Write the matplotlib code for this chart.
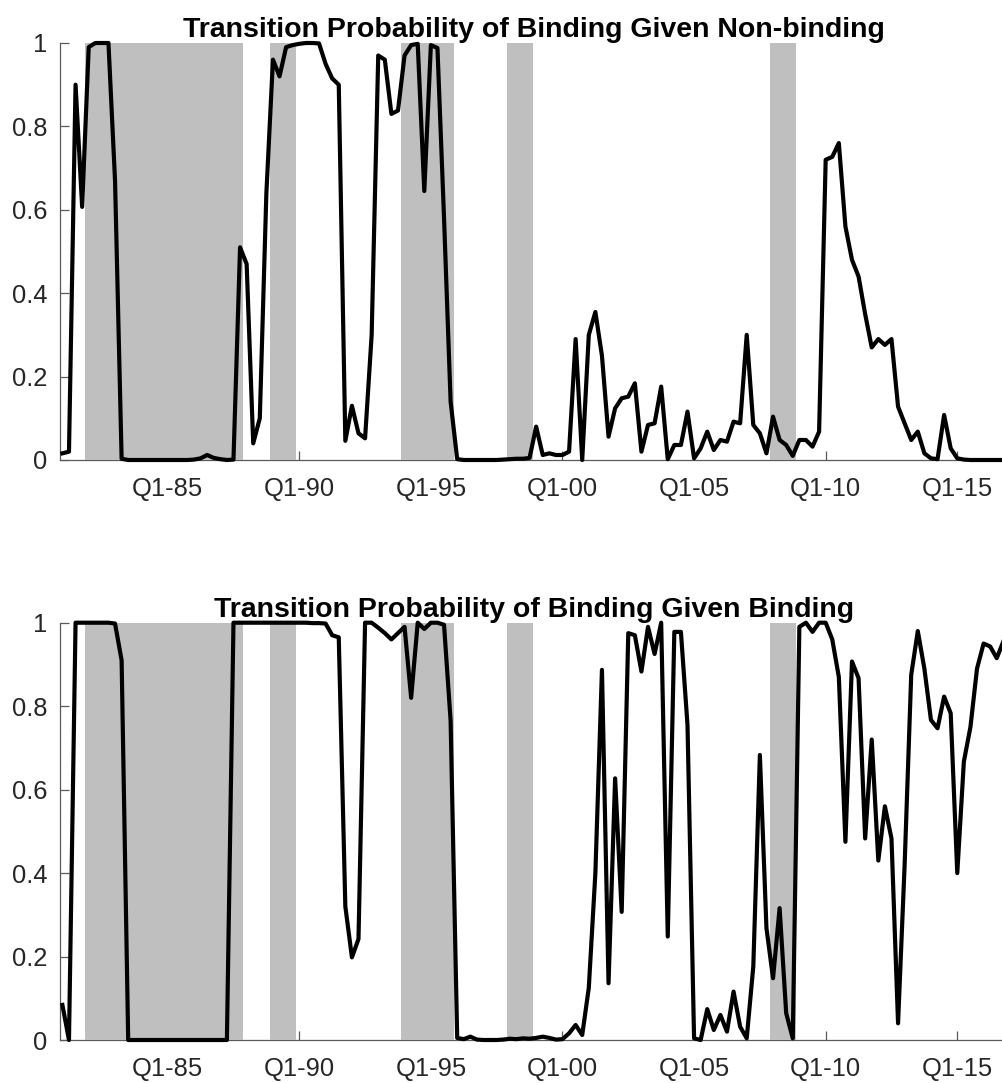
import numpy as np
import matplotlib
matplotlib.use("Agg")
import matplotlib.pyplot as plt

# ---------------- data (quarterly, starting 1981 Q1) ----------------
start_year = 1981

p_bind_given_nonbind = [
    0.016, 0.02, 0.90, 0.607, 0.99, 1.0, 1.0, 1.0, 0.67, 0.003,          # 0-9
    0.0, 0.0, 0.0, 0.0, 0.0, 0.0, 0.0, 0.0, 0.0, 0.0,                     # 10-19
    0.001, 0.004, 0.012, 0.005, 0.002, 0.0, 0.001, 0.51, 0.47, 0.04,      # 20-29
    0.10, 0.64, 0.96, 0.92, 0.99, 0.995, 0.998, 1.0, 1.0, 0.999,          # 30-39
    0.95, 0.915, 0.90, 0.046, 0.13, 0.064, 0.052, 0.30, 0.97, 0.96,       # 40-49
    0.83, 0.838, 0.97, 0.995, 0.998, 0.645, 0.995, 0.988, 0.58, 0.14,     # 50-59
    0.002, 0.0, 0.0, 0.0, 0.0, 0.0, 0.0, 0.001, 0.002, 0.003,             # 60-69
    0.003, 0.005, 0.08, 0.012, 0.016, 0.012, 0.012, 0.02, 0.29, 0.0,      # 70-79
    0.30, 0.355, 0.25, 0.056, 0.124, 0.148, 0.152, 0.184, 0.02, 0.084,    # 80-89
    0.088, 0.176, 0.002, 0.036, 0.036, 0.116, 0.004, 0.028, 0.068, 0.024, # 90-99
    0.048, 0.044, 0.092, 0.088, 0.30, 0.084, 0.064, 0.016, 0.104, 0.048,  # 100-109
    0.036, 0.01, 0.048, 0.048, 0.032, 0.068, 0.72, 0.727, 0.76, 0.56,     # 110-119
    0.48, 0.44, 0.35, 0.27, 0.29, 0.276, 0.29, 0.128, 0.088, 0.048,       # 120-129
    0.068, 0.016, 0.004, 0.002, 0.108, 0.028, 0.004, 0.001, 0.0, 0.0,     # 130-139
    0.0, 0.0, 0.0, 0.0,                                                   # 140-143
]

p_bind_given_bind = [
    0.084, 0.0, 1.0, 1.0, 1.0, 1.0, 1.0, 1.0, 0.998, 0.91,                # 0-9
    0.0, 0.0, 0.0, 0.0, 0.0, 0.0, 0.0, 0.0, 0.0, 0.0,                     # 10-19
    0.0, 0.0, 0.0, 0.0, 0.0, 0.0, 1.0, 1.0, 1.0, 1.0,                     # 20-29
    1.0, 1.0, 1.0, 1.0, 1.0, 1.0, 1.0, 1.0, 0.999, 0.999,                 # 30-39
    0.998, 0.97, 0.965, 0.32, 0.198, 0.242, 1.0, 1.0, 0.988, 0.975,       # 40-49
    0.96, 0.975, 0.99, 0.82, 1.0, 0.985, 1.0, 1.0, 0.995, 0.765,          # 50-59
    0.005, 0.002, 0.008, 0.001, 0.0, 0.0, 0.0, 0.001, 0.003, 0.002,       # 60-69
    0.004, 0.003, 0.005, 0.008, 0.005, 0.001, 0.002, 0.016, 0.036, 0.012, # 70-79
    0.125, 0.40, 0.887, 0.136, 0.627, 0.307, 0.975, 0.97, 0.883, 0.99,    # 80-89
    0.925, 1.0, 0.248, 0.978, 0.978, 0.755, 0.004, 0.0, 0.074, 0.024,     # 90-99
    0.06, 0.02, 0.116, 0.032, 0.004, 0.176, 0.683, 0.268, 0.148, 0.316,   # 100-109
    0.064, 0.004, 0.99, 1.0, 0.978, 1.0, 1.0, 0.96, 0.87, 0.475,          # 110-119
    0.907, 0.867, 0.483, 0.72, 0.43, 0.56, 0.483, 0.04, 0.42, 0.875,      # 120-129
    0.98, 0.89, 0.767, 0.747, 0.823, 0.783, 0.40, 0.667, 0.75, 0.89,      # 130-139
    0.95, 0.943, 0.915, 0.955,                                            # 140-143
]

shaded_years = [1982, 1983, 1984, 1985, 1986, 1987, 1989, 1994, 1995, 1998, 2008]

tick_years = [1985, 1990, 1995, 2000, 2005, 2010, 2015]
tick_labels = ["Q1-85", "Q1-90", "Q1-95", "Q1-00", "Q1-05", "Q1-10", "Q1-15"]
ytick_vals = [0, 0.2, 0.4, 0.6, 0.8, 1]
ytick_labels = ["0", "0.2", "0.4", "0.6", "0.8", "1"]

titles = ["Transition Probability of Binding Given Non-binding",
          "Transition Probability of Binding Given Binding"]

# ---------------- styling ----------------
plt.rcParams['font.family'] = ['Liberation Sans', 'DejaVu Sans']

W, H = 1002, 1083
fig = plt.figure(figsize=(W / 100, H / 100), dpi=100)


def px_axes(left, top, right, bottom):
    return [left / W, 1 - bottom / H, (right - left) / W, (bottom - top) / H]


YEAR_PX = 26.32
x_left = 1980.909
x_right = x_left + (1008 - 60) / YEAR_PX

# merge contiguous shaded years into spans
spans = []
for y in sorted(shaded_years):
    if spans and spans[-1][1] == y - 1:
        spans[-1][1] = y
    else:
        spans.append([y, y])

axes = [fig.add_axes(px_axes(60, 43, 1008, 460)),
        fig.add_axes(px_axes(60, 622.7, 1008, 1040))]
series = [p_bind_given_nonbind, p_bind_given_bind]

for ax, vals, title in zip(axes, series, titles):
    t = start_year + np.arange(len(vals)) / 4.0
    for a, b in spans:
        ax.axvspan(a - 0.125, b + 0.875, color='#bfbfbf', lw=0, zorder=3)
    ax.plot(t, vals, color='black', lw=3.0, zorder=4, clip_on=False,
            solid_joinstyle='round')
    ax.set_xlim(x_left, x_right)
    ax.set_ylim(0, 1)
    ax.set_xticks(tick_years)
    ax.set_xticklabels(tick_labels)
    ax.set_yticks(ytick_vals)
    ax.set_yticklabels(ytick_labels)
    for side in ('top', 'right'):
        ax.spines[side].set_visible(False)
    for side in ('left', 'bottom'):
        ax.spines[side].set_color('#5a5a5a')
        ax.spines[side].set_linewidth(0.9)
    ax.tick_params(axis='both', direction='in', length=6.5, width=0.9,
                   color='#5a5a5a', labelcolor='#262626', labelsize=18.4)
    ax.tick_params(axis='x', pad=12)
    ax.tick_params(axis='y', pad=9)
    ax.set_title(title, fontsize=20.5, fontweight='bold', color='black', pad=4)

fig.savefig("out.png", dpi=100)
